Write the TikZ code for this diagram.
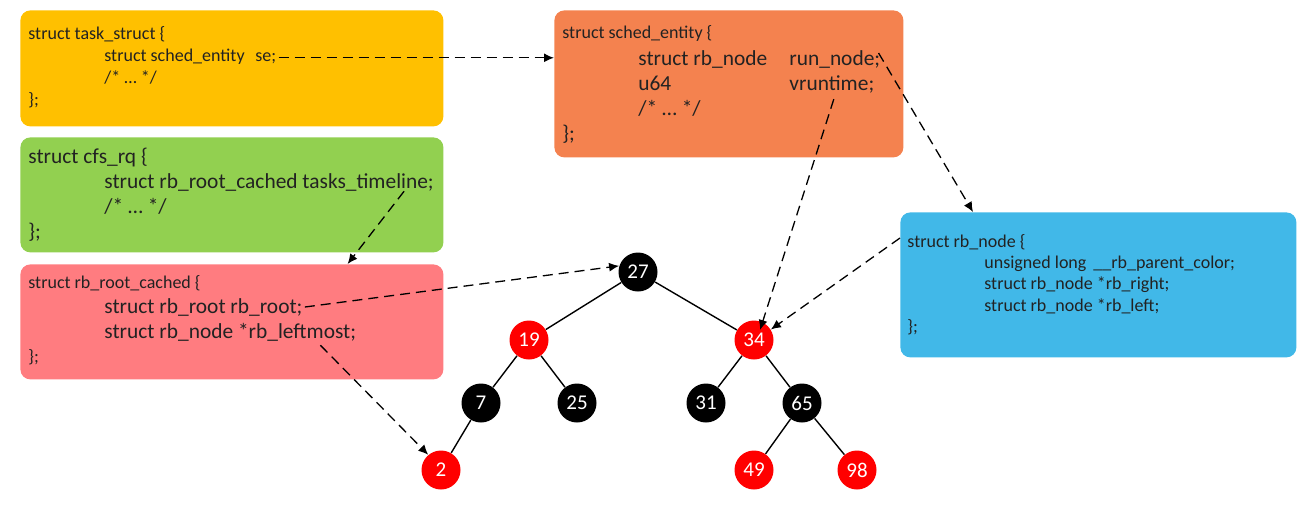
\documentclass[tikz,border=0pt]{standalone}
\usepackage{fontspec}
\setmainfont{Carlito}
\usetikzlibrary{arrows.meta, positioning, calc}

\definecolor{taskyellow}{HTML}{FFC000}
\definecolor{cfsgreen}{HTML}{92D050}
\definecolor{cachedpink}{HTML}{FF7C80}
\definecolor{seorange}{HTML}{F4824F}
\definecolor{rbblue}{HTML}{41B8E8}
\definecolor{codegray}{HTML}{222222}

\tikzset{
  structbox/.style={rounded corners=5pt, anchor=north west, inner sep=0pt},
  smallcode/.style={anchor=base west, inner sep=0pt, text=codegray, font=\fontsize{9}{11}\selectfont},
  bigcode/.style={anchor=base west, inner sep=0pt, text=codegray, font=\fontsize{10.7}{12.5}\selectfont},
  rbnode/.style={circle, minimum size=19.5pt, inner sep=0pt, text=white, font=\fontsize{10.5}{12}\selectfont},
  rednode/.style={rbnode, fill=red},
  blacknode/.style={rbnode, fill=black},
  treeedge/.style={line width=0.7pt},
  ptr/.style={dash pattern=on 5pt off 3pt, line width=0.65pt, -{Latex[length=5pt,width=4.5pt]}}
}

\begin{document}
\begin{tikzpicture}[x=0.5pt, y=-0.5pt]
  \useasboundingbox (0,0) rectangle (1307,505);
  % Struct boxes
  \node[structbox, fill=taskyellow, minimum width=211.5pt, minimum height=58pt] (taskbox) at (20,10) {};
  \node[structbox, fill=cfsgreen, minimum width=211.5pt, minimum height=57.5pt] (cfsbox) at (20,137) {};
  \node[structbox, fill=cachedpink, minimum width=211.5pt, minimum height=57.5pt] (cachedbox) at (20,264) {};
  \node[structbox, fill=seorange, minimum width=174.5pt, minimum height=73.5pt] (sebox) at (554,10) {};
  \node[structbox, fill=rbblue, minimum width=198pt, minimum height=72.5pt] (rbbox) at (900,212) {};
  % task_struct
  \node[smallcode] (task1) at (28,39) {struct task\_struct \{};
  \node[smallcode] (task2) at (104,61) {struct sched\_entity};
  \node[smallcode] (se) at (255,61) {se;};
  \node[smallcode] (task3) at (104,83) {/* … */};
  \node[smallcode] (task4) at (28,105) {\};};
  % cfs_rq
  \node[bigcode] (cfs1) at (28,163) {struct cfs\_rq \{};
  \node[bigcode] (timeline) at (104,188) {struct rb\_root\_cached tasks\_timeline;};
  \node[bigcode] (cfs3) at (104,213) {/* … */};
  \node[bigcode] (cfs4) at (28,238) {\};};
  % rb_root_cached
  \node[smallcode] (cached1) at (28,288) {struct rb\_root\_cached \{};
  \node[bigcode] (rbroot) at (104,313) {struct rb\_root rb\_root;};
  \node[bigcode] (leftmost) at (104,338) {struct rb\_node *rb\_leftmost;};
  \node[smallcode] (cached4) at (28,362) {\};};
  % sched_entity
  \node[smallcode] (se1) at (562,38) {struct sched\_entity \{};
  \node[bigcode] (se2) at (638,65) {struct rb\_node};
  \node[bigcode] (runnode) at (789,65) {run\_node;};
  \node[bigcode] (se3) at (638,90) {u64};
  \node[bigcode] (vruntime) at (789,90) {vruntime;};
  \node[bigcode] (se4) at (638,115) {/* … */};
  \node[bigcode] (se5) at (562,140) {\};};
  % rb_node
  \node[smallcode] (rb1) at (907,247) {struct rb\_node \{};
  \node[smallcode] (rb2) at (984,268) {unsigned long};
  \node[smallcode] (color) at (1093,268) {\_\_rb\_parent\_color;};
  \node[smallcode] (rb3) at (984,289) {struct rb\_node *rb\_right;};
  \node[smallcode] (rb4) at (984,311) {struct rb\_node *rb\_left;};
  \node[smallcode] (rb5) at (907,332) {\};};
  % Tree
  \node[blacknode] (n27) at (638,272) {27};
  \node[rednode] (n19) at (529,340) {19};
  \node[rednode] (n34) at (754,340) {34};
  \node[blacknode] (n7) at (481,403) {7};
  \node[blacknode] (n25) at (577,403) {25};
  \node[blacknode] (n31) at (706,403) {31};
  \node[blacknode] (n65) at (802,403) {65};
  \node[rednode] (n2) at (441,470) {2};
  \node[rednode] (n49) at (754,470) {49};
  \node[rednode] (n98) at (857,470) {98};
  \draw[treeedge] (n27) -- (n19);
  \draw[treeedge] (n27) -- (n34);
  \draw[treeedge] (n19) -- (n7);
  \draw[treeedge] (n19) -- (n25);
  \draw[treeedge] (n7) -- (n2);
  \draw[treeedge] (n34) -- (n31);
  \draw[treeedge] (n34) -- (n65);
  \draw[treeedge] (n65) -- (n49);
  \draw[treeedge] (n65) -- (n98);
  % Pointers
  \draw[ptr] ([xshift=1pt]se.east) -- (se.east -| sebox.west);
  \draw[ptr] ([xshift=-15pt]timeline.south east) -- ($(cachedbox.north west)!0.773!(cachedbox.north east)$);
  \draw[ptr] ([xshift=1pt]rbroot.east) -- (n27.162);
  \draw[ptr] ([xshift=-18pt,yshift=-2pt]leftmost.south east) -- (n2.130);
  \draw[ptr] ([xshift=1pt,yshift=-3pt]vruntime.south) -- ([xshift=3pt,yshift=5pt]n34.center);
  \draw[ptr] ([xshift=-1pt,yshift=3pt]runnode.east) -- ($(rbbox.north west)!0.184!(rbbox.north east)$);
  \draw[ptr] ([yshift=-13pt]rbbox.north west) -- (n34.32);
\end{tikzpicture}
\end{document}
